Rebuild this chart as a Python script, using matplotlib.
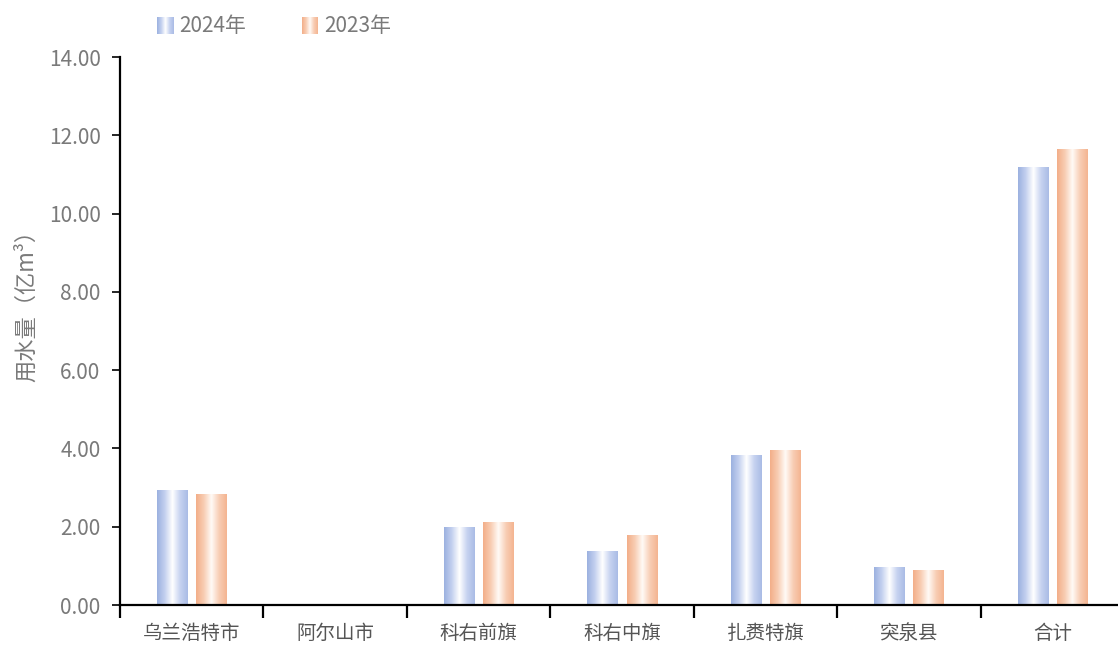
import numpy as np
import matplotlib
matplotlib.use("Agg")
import matplotlib.pyplot as plt
from matplotlib.colors import LinearSegmentedColormap

plt.rcParams['font.family'] = ['Noto Sans CJK SC', 'DejaVu Sans']

regions = ['乌兰浩特市', '阿尔山市', '科右前旗', '科右中旗', '扎赉特旗', '突泉县', '合计']
water_2024 = [2.94, 0.03, 1.99, 1.38, 3.83, 0.97, 11.20]
water_2023 = [2.84, 0.03, 2.12, 1.79, 3.95, 0.90, 11.66]
series_names = ['2024年', '2023年']

blue_cmap = LinearSegmentedColormap.from_list(
    'blue_bar', ['#9bb1e0', '#c3d0ef', '#ffffff', '#c6d2f0', '#a9bbe5'])
orange_cmap = LinearSegmentedColormap.from_list(
    'orange_bar', ['#f3ae88', '#f8ccb2', '#fffaf6', '#f8cdb4', '#f4b490'])
grad = np.linspace(0, 1, 256).reshape(1, -1)

fig = plt.figure(figsize=(11.18, 6.45), dpi=100)
ax = fig.add_axes([120 / 1118, 1 - 605 / 645, 1004 / 1118, 548 / 645])

x = np.arange(len(regions))
bar_w = 0.21
off = 0.137
bars = []
for vals, sign in ((water_2024, -1), (water_2023, 1)):
    bars.append(ax.bar(x + sign * off, vals, bar_w, facecolor='none',
                       edgecolor='none', zorder=2))

# fill each bar with a horizontal gradient
for cont, cmap in zip(bars, (blue_cmap, orange_cmap)):
    for p in cont.patches:
        x0, w, h = p.get_x(), p.get_width(), p.get_height()
        im = ax.imshow(grad, cmap=cmap, aspect='auto',
                       extent=[x0, x0 + w, 0, h], zorder=2)
        im.set_clip_path(p)

ax.set_xlim(-0.5, len(regions) - 0.5)
ax.set_ylim(0, 14)
ax.set_yticks(np.arange(0, 14.01, 2))
ax.set_yticklabels([f'{v:.2f}' for v in np.arange(0, 14.01, 2)],
                   fontweight='light')
ax.set_xticks(x)
ax.set_xticklabels(regions, fontweight='light')
ax.set_xticks(np.arange(-0.5, len(regions), 1), minor=True)

for s in ('top', 'right'):
    ax.spines[s].set_visible(False)
for s in ('left', 'bottom'):
    ax.spines[s].set_color('black')
    ax.spines[s].set_linewidth(1.6)

ax.tick_params(axis='y', direction='out', length=6, width=1.2,
               labelsize=15, labelcolor='#7a7a7a', pad=8)
ax.tick_params(axis='x', which='major', length=0, labelsize=14,
               labelcolor='#555555', pad=13)
ax.tick_params(axis='x', which='minor', direction='out', length=9, width=1.6)

ax.set_ylabel('用水量（亿m³）', fontsize=16, color='#7a7a7a',
              fontweight='light')
ax.yaxis.set_label_coords(-0.082, 0.555)

# legend swatches along the top
for sx, name, cmap in ((157, series_names[0], blue_cmap),
                       (302, series_names[1], orange_cmap)):
    sw = fig.add_axes([sx / 1118, 1 - 34 / 645, 16 / 1118, 17 / 645])
    sw.imshow(grad, cmap=cmap, aspect='auto')
    sw.axis('off')
    fig.text((sx + 22) / 1118, 1 - 26 / 645, name, fontsize=15,
             color='#7a7a7a', va='center', ha='left', fontweight='light')

fig.savefig('out.png', dpi=100)
